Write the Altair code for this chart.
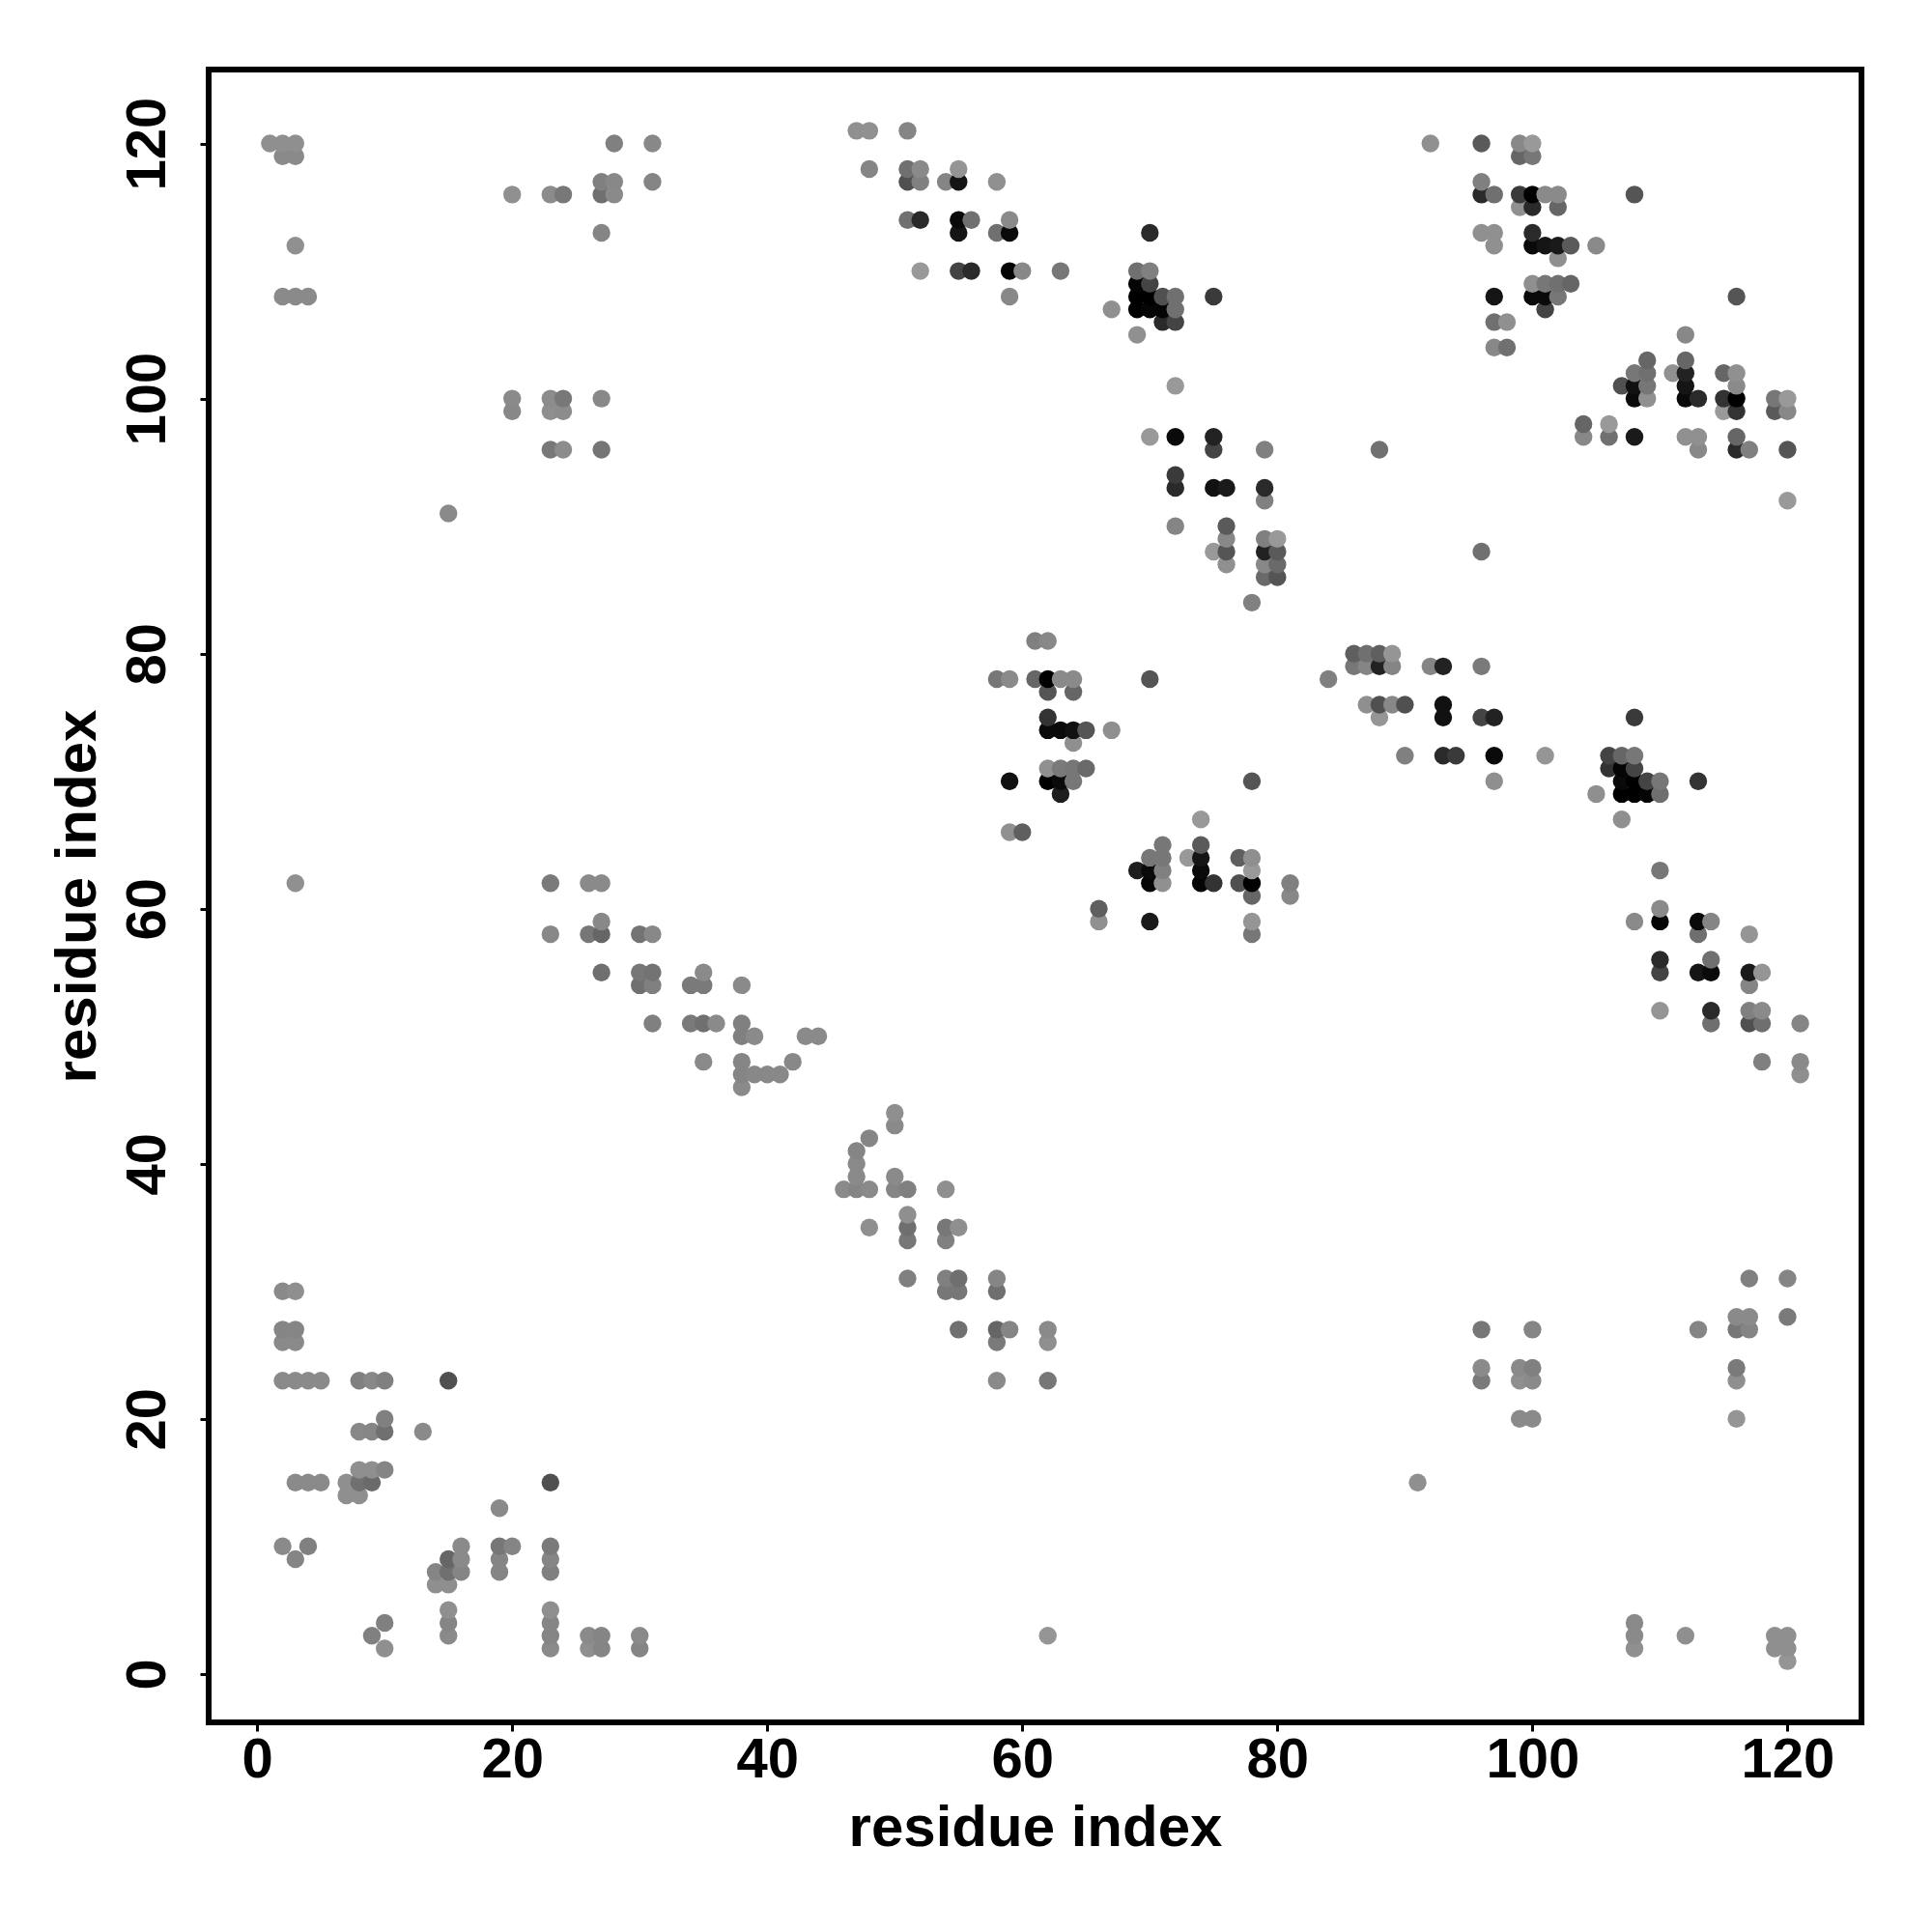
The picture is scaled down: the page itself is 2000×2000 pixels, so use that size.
import altair as alt
import pandas as pd

# One entry per horizontal row of contacts: y value, x values, grey level of each point
row_y = [121,120,119,118,117,116,115,114,113,112,111,110,109,108,107,106,105,104,103,102,101,100,
         99,98,97,96,94,93,92,91,90,89,88,87,86,84,81,80,79,78,77,76,75,74,73,72,71,70,
         69,67,66,65,64,63,62,61,60,59,58,56,55,54,52,51,50,48,47,46,44,43,42,41,40,
         39,38,36,35,34,31,30,28,27,26,24,23,20,19,16,15,14,13,10,9,8,7,5,4,3,2,1]

row_x = [
 [47,48,51],
 [1,2,3,28,31,92,96,99,100],
 [2,3,99,100],
 [48,51,52,55],
 [27,28,31,51,52,54,55,58,96],
 [20,23,24,27,28,96,97,99,100,101,102,108],
 [99,100,102],
 [51,52,55,56,59],
 [27,55,58,59,70,96,97,100],
 [3,97,100,101,102,103,105],
 [102],
 [52,55,56,59,60,63,69,70],
 [69,70,100,101,102,103],
 [2,3,4,59,69,70,71,72,75,97,100,101,102,116],
 [67,69,70,71,72,101],
 [71,72,97,98],
 [69,112],
 [97,98],
 [109,112],
 [108,109,111,112,115,116],
 [72,107,108,109,112,116],
 [20,23,24,27,108,109,112,113,115,116,119,120],
 [20,23,24,115,116,119,120],
 [104,106],
 [70,72,75,104,106,108,112,113,116],
 [23,24,27,75,79,88,113,116,117,120],
 [72],
 [72,75,76,79],
 [79,120],
 [15],
 [72,76],
 [76,79,80],
 [75,76,79,80,96],
 [76,79,80],
 [79,80],
 [78],
 [61,62],
 [86,87,88,89],
 [86,87,88,89,92,93,96],
 [58,59,61,62,63,64,70,84],
 [62,64],
 [87,88,89,90,93],
 [62,88,93,96,97,108],
 [62,63,64,65,67],
 [64],
 [90,93,94,97,101,106,107,108],
 [62,63,64,65,106,107,108],
 [59,62,63,64,78,97,107,108,109,110,113],
 [63,105,107,108,109,110],
 [74,107],
 [59,60],
 [71,74],
 [70,71,73,74,77,78],
 [69,70,71,74,78,110],
 [3,23,26,27,70,71,74,75,77,78,81],
 [78,81],
 [66,110],
 [27,66,70,78,108,110,113,114],
 [23,26,27,30,31,78,113,117],
 [110,114],
 [27,30,31,35,110,113,114,117,118],
 [30,31,34,35,38,117],
 [110,114,117,118],
 [31,34,35,36,38,114,117,118,121],
 [38,39,43,44],
 [35,38,42,118,121],
 [38,39,40,41,121],
 [38],
 [50],
 [50],
 [48],
 [47],
 [47],
 [47,50],
 [46,47,48,50,51,54],
 [51],
 [48,51,54,55],
 [51,54],
 [51,54,55,58,117,120],
 [2,3,54,55,58],
 [116,117,120],
 [2,3,55,58,59,62,96,100,113,116,117],
 [2,3,58,62],
 [96,99,100,116],
 [2,3,4,5,8,9,10,15,58,62,96,99,100,116],
 [10,99,100,116],
 [8,9,10,13],
 [8,9,10],
 [3,4,5,7,8,9,23,91],
 [7,8],
 [19],
 [2,4,16,19,20,23],
 [3,15,16,19,23],
 [14,15,16,19,23],
 [14,15],
 [15,23],
 [10,15,23,108],
 [9,15,23,26,27,30,62,108,112,119,120],
 [10,23,26,27,30,108,119,120],
 [120],
]

row_grey = [
 "90 90 85",
 "8f 8f 8f 80 88 90 5a 88 99",
 "8a 8a 66 77",
 "85 70 8a 95",
 "80 88 85 50 80 85 15 90 80",
 "90 8c 78 70 8a 2a 70 3a 00 8a 8a 55",
 "90 2a 66",
 "70 2a 0a 70 8a",
 "85 15 70 0a 2a 90 90 2a",
 "90 90 0a 15 1a 5a 8a",
 "90",
 "99 44 2a 05 88 77 70 80",
 "05 44 8f 77 70 66",
 "8a 8a 8a 88 00 00 50 70 3a 15 0a 0a 77 55",
 "90 00 05 05 70 44",
 "2a 44 70 90",
 "90 88",
 "88 70",
 "66 66",
 "77 70 90 22 66 90",
 "99 50 11 77 15 8a",
 "8a 8c 78 88 0a 90 0a 2a 33 00 77 99",
 "88 8f 8c 99 33 5a 88",
 "66 99",
 "99 0a 22 88 70 1a 90 90 66",
 "78 8c 75 44 80 70 88 2a 80 55",
 "3a",
 "2a 11 1a 2a",
 "80 99",
 "8a",
 "85 5a",
 "88 80 99",
 "99 55 22 5a 70",
 "90 88 6a",
 "6a 55",
 "80",
 "80 88",
 "5f 70 5f 95",
 "77 85 22 85 85 22 7a",
 "77 8a 66 00 8a 8a 55 80",
 "55 66",
 "8f 50 88 50 11",
 "33 95 11 44 22 3a",
 "0a 0a 11 55 8f",
 "8f",
 "80 2a 3a 0a 95 44 66 77",
 "90 7a 77 6a 33 05 44",
 "11 00 0a 77 55 8f 0a 00 44 77 33",
 "1e 8f 00 00 05 6f",
 "99 8f",
 "90 5f",
 "77 5a",
 "77 77 99 15 5f 8f",
 "1e 0a 80 0a 99 77",
 "90 7a 8a 8a 05 90 05 33 50 00 80",
 "66 88",
 "5f 8a",
 "88 90 1a 95 8a 05 0a 85",
 "88 77 66 73 88 77 6f 95",
 "2a 70",
 "6f 77 73 8a 44 15 0a 1a 95",
 "70 80 7a 7a 8a 85",
 "95 2a 80 8a",
 "80 7a 70 8a 80 6f 50 6f 85",
 "80 8a 8a 8a",
 "8a 85 88 80 8a",
 "85 88 88 88 8f",
 "8a",
 "8f",
 "8a",
 "85",
 "85",
 "8a",
 "8a 8a",
 "8a 85 8a 85 80 8f",
 "8f",
 "8f 6f 77 8f",
 "77 80",
 "80 80 6f 85 80 85",
 "8a 8f 77 77 6f",
 "8a 8a 7a",
 "85 85 70 66 85 8a 77 85 85 77 85",
 "8a 8a 7a 8f",
 "8a 8a 80 7a",
 "8a 8a 8a 8a 80 88 80 50 8a 77 7a 8f 8a 8f",
 "80 8a 8a 95",
 "88 85 70 8a",
 "8f 8f 85",
 "8a 8a 8a 8f 70 6a 50 8f",
 "8f 8f",
 "8a",
 "8a 80 8a 77 85 7a",
 "85 66 8a 85 85",
 "85 70 85 85 80",
 "8f 8f",
 "8f 8f",
 "80 85 85 8a",
 "80 8a 85 8a 85 8a 95 8a 8f 8f 8f",
 "8f 8a 8f 85 85 8f 8f 8f",
 "95",
]

tick_values = [0, 20, 40, 60, 80, 100, 120]
axis_title = "residue index"
font = "Liberation Sans"

records = []
for y, xs, greys in zip(row_y, row_x, row_grey):
    for x, g in zip(xs, greys.split()):
        records.append({"x": x, "y": y, "colour": f"#{g}{g}{g}"})
df = pd.DataFrame(records).sort_values(["x", "y"])

chart = (
    alt.Chart(df)
    .mark_circle(size=339, opacity=1)
    .encode(
        x=alt.X(
            "x:Q",
            scale=alt.Scale(domain=[-3.8, 125.8], nice=False, zero=False),
            axis=alt.Axis(
                values=tick_values, title=axis_title, grid=False, domain=False,
                tickSize=9, tickWidth=3, tickColor="black",
                labelFont=font, labelFontSize=58, labelFontWeight="bold", labelColor="black",
                labelPadding=1, labelOverlap=False, labelFlush=False,
                titleFont=font, titleFontSize=60, titleFontWeight="bold", titleColor="black",
                titleX=855.5, titleY=127, titleBaseline="alphabetic", titleAlign="center",
            ),
        ),
        y=alt.Y(
            "y:Q",
            scale=alt.Scale(domain=[-3.8, 125.8], nice=False, zero=False),
            axis=alt.Axis(
                values=tick_values, title=axis_title, grid=False, domain=False,
                tickSize=9, tickWidth=3, tickColor="black",
                labelFont=font, labelFontSize=58, labelFontWeight="bold", labelColor="black",
                labelAngle=270, labelAlign="center", labelBaseline="bottom",
                labelPadding=25, labelOverlap=False, labelFlush=False,
                titleFont=font, titleFontSize=60, titleFontWeight="bold", titleColor="black",
                titleAngle=270, titleX=-118, titleY=855.5, titleBaseline="alphabetic", titleAlign="center",
            ),
        ),
        color=alt.Color("colour:N", scale=None, legend=None),
    )
    .properties(
        width=1711,
        height=1711,
        padding={"left": 208, "top": 64, "right": 60, "bottom": 200},
        autosize=alt.AutoSizeParams(type="none"),
        background="white",
    )
    .configure_view(stroke="black", strokeWidth=6)
)

chart.save("out.html", embed_options={"renderer": "svg", "actions": False})
